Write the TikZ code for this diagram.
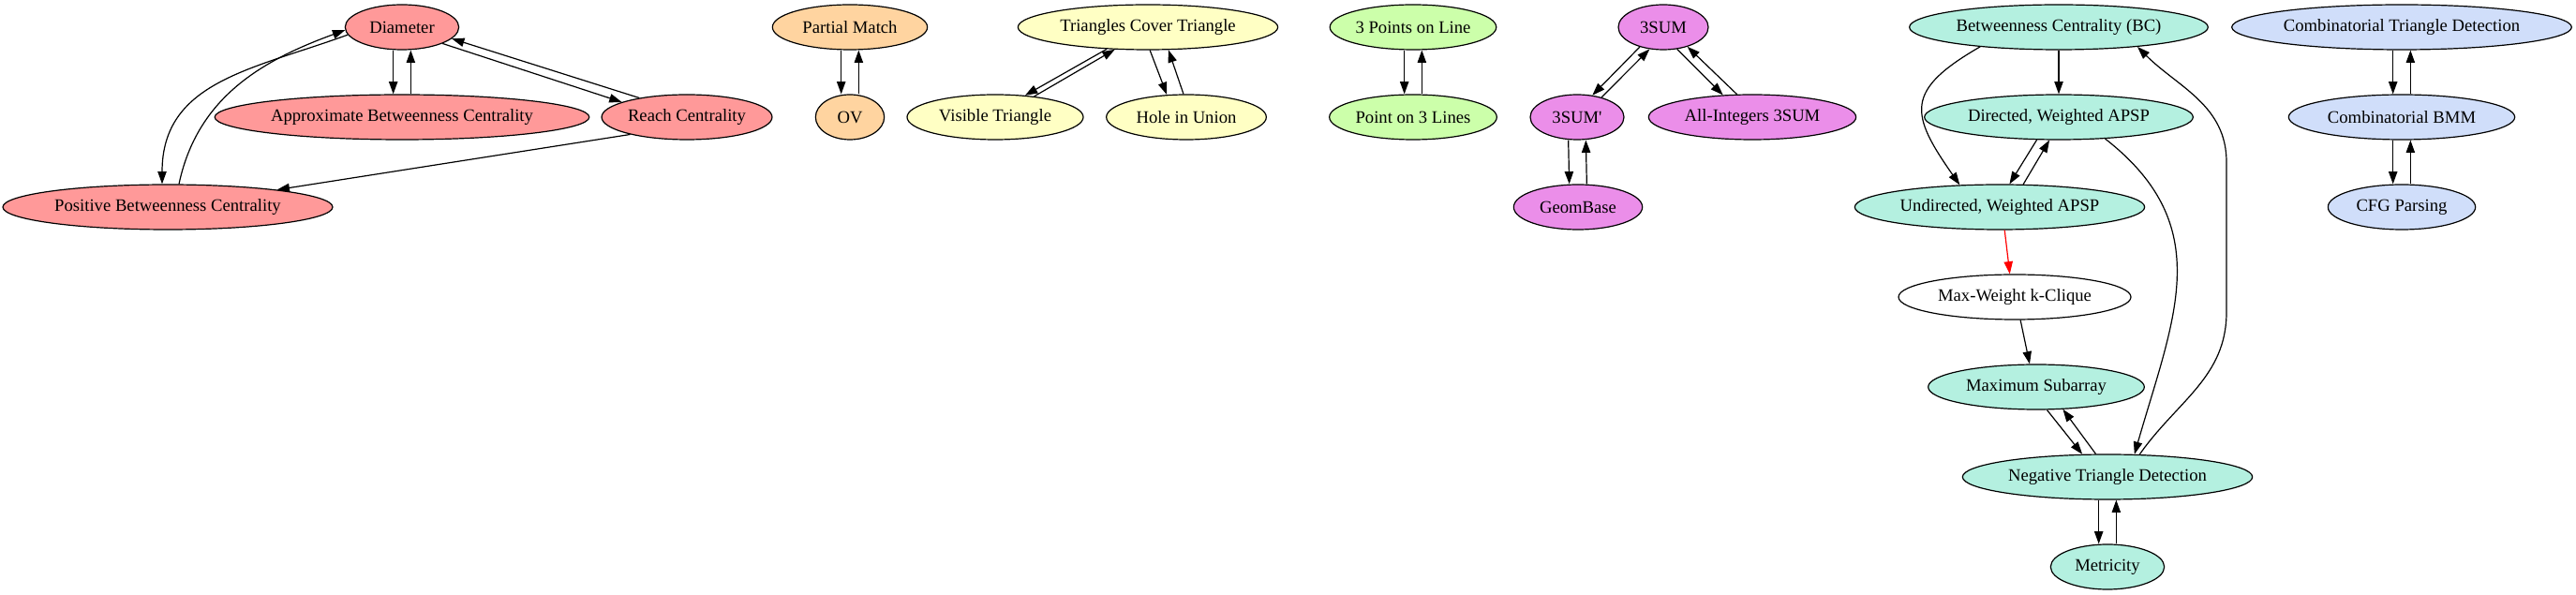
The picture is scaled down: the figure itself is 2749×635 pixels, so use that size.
\documentclass[tikz,border=0pt]{standalone}
\usepackage{fontspec}
\setmainfont{Liberation Serif}
\usetikzlibrary{shapes.geometric,arrows.meta}
\definecolor{redfill}{HTML}{FF9999}
\definecolor{orangefill}{HTML}{FFD4A0}
\definecolor{yellowfill}{HTML}{FFFFC4}
\definecolor{greenfill}{HTML}{CCFFAA}
\definecolor{violetfill}{HTML}{EB8EE9}
\definecolor{tealfill}{HTML}{B4F0E0}
\definecolor{bluefill}{HTML}{D0DEFA}
\begin{document}
\begin{tikzpicture}
  [x=0.75pt,y=0.75pt,line width=0.9pt,>={Triangle[length=10pt,width=7pt]},
   every node/.style={ellipse,draw,minimum height=36pt,inner sep=1pt,
     font=\fontsize{14pt}{17pt}\selectfont}]
  \useasboundingbox (0,0) rectangle (2749,635);
  % red group
  \node[fill=redfill,minimum width=91pt] (dia) at (429,606) {Diameter};
  \node[fill=redfill,minimum width=298pt] (abc) at (429,510) {Approximate Betweenness Centrality};
  \node[fill=redfill,minimum width=120pt] (reach) at (733,510) {Reach Centrality};
  \node[fill=redfill,minimum width=264pt] (pbc) at (179,414) {Positive Betweenness Centrality};
  % orange group
  \node[fill=orangefill,minimum width=124pt] (pm) at (907,606) {Partial Match};
  \node[fill=orangefill,minimum width=55pt] (ov) at (907,510) {OV};
  % yellow group
  \node[fill=yellowfill,minimum width=208pt] (tct) at (1225,606) {Triangles Cover Triangle};
  \node[fill=yellowfill,minimum width=141pt] (vt) at (1062,510) {Visible Triangle};
  \node[fill=yellowfill,minimum width=128pt] (hu) at (1266,510) {Hole in Union};
  % green group
  \node[fill=greenfill,minimum width=132pt] (tpl) at (1508,606) {3 Points on Line};
  \node[fill=greenfill,minimum width=134pt] (ptl) at (1508,510) {Point on 3 Lines};
  % violet group
  \node[fill=violetfill,minimum width=72pt] (sum) at (1775,606) {3SUM};
  \node[fill=violetfill,minimum width=75pt] (sump) at (1683,510) {3SUM\textquotesingle};
  \node[fill=violetfill,minimum width=166pt] (aisum) at (1870,510) {All-Integers 3SUM};
  \node[fill=violetfill,minimum width=103pt] (geom) at (1684,414) {GeomBase};
  % teal group
  \node[fill=tealfill,minimum width=239pt] (bc) at (2197,606) {Betweenness Centrality (BC)};
  \node[fill=tealfill,minimum width=215pt] (dapsp) at (2197,510) {Directed, Weighted APSP};
  \node[fill=tealfill,minimum width=232pt] (uapsp) at (2134,414) {Undirected, Weighted APSP};
  \node[minimum width=186pt] (mwkc) at (2150,318) {Max-Weight k-Clique};
  \node[fill=tealfill,minimum width=173pt] (maxsub) at (2173,222) {Maximum Subarray};
  \node[fill=tealfill,minimum width=232pt] (ntd) at (2249,126) {Negative Triangle Detection};
  \node[fill=tealfill,minimum width=91pt] (metr) at (2249,30) {Metricity};
  % blue group
  \node[fill=bluefill,minimum width=272pt] (ctd) at (2563,606) {Combinatorial Triangle Detection};
  \node[fill=bluefill,minimum width=181pt] (bmm) at (2563,510) {Combinatorial BMM};
  \node[fill=bluefill,minimum width=118pt] (cfg) at (2563,414) {CFG Parsing};
  % two-way vertical pairs
  \foreach \up/\down in {dia/abc,pm/ov,tpl/ptl,sump/geom,ntd/metr,ctd/bmm,bmm/cfg}
  {
    \draw[->] ([xshift=-7pt]\up.south) -- ([xshift=-7pt]\down.north);
    \draw[->] ([xshift=7pt]\down.north) -- ([xshift=7pt]\up.south);
  }
  % slanted edges
  \foreach \from/\to in {dia.-22/reach.167, reach.158/dia.-13, reach.197/pbc.9,
    tct.208/vt.36, vt.28/tct.214, tct.275/hu.131, hu.97/tct.312,
    sum.220/sump.55, sump.39/sum.238, sum.302/aisum.143, aisum.124/sum.321,
    bc/dapsp, dapsp.226/uapsp.67, uapsp.44/dapsp.248, mwkc.284/maxsub.106,
    maxsub.295/ntd.138, ntd.117/maxsub.320}
    \draw[->] (\from) -- (\to);
  \draw[->,red] (uapsp.282) -- (mwkc.102);
  % curved edges
  \draw[->] (dia.188) to[out=200,in=90,looseness=1.1] ([xshift=-4.5pt]pbc.north);
  \draw[->] ([xshift=9pt]pbc.north) to[out=78,in=200] (dia.183);
  \draw[->] (bc.194) to[out=210,in=125,looseness=1.6] (uapsp.151);
  \draw[->] (dapsp.335) to[out=-38,in=74,looseness=1.15] (ntd.40);
  \draw[->] (ntd.35) to[out=55,in=-90] (2376,302) -- (2376,462)
    to[out=90,in=-45] (bc.346);
\end{tikzpicture}
\end{document}
